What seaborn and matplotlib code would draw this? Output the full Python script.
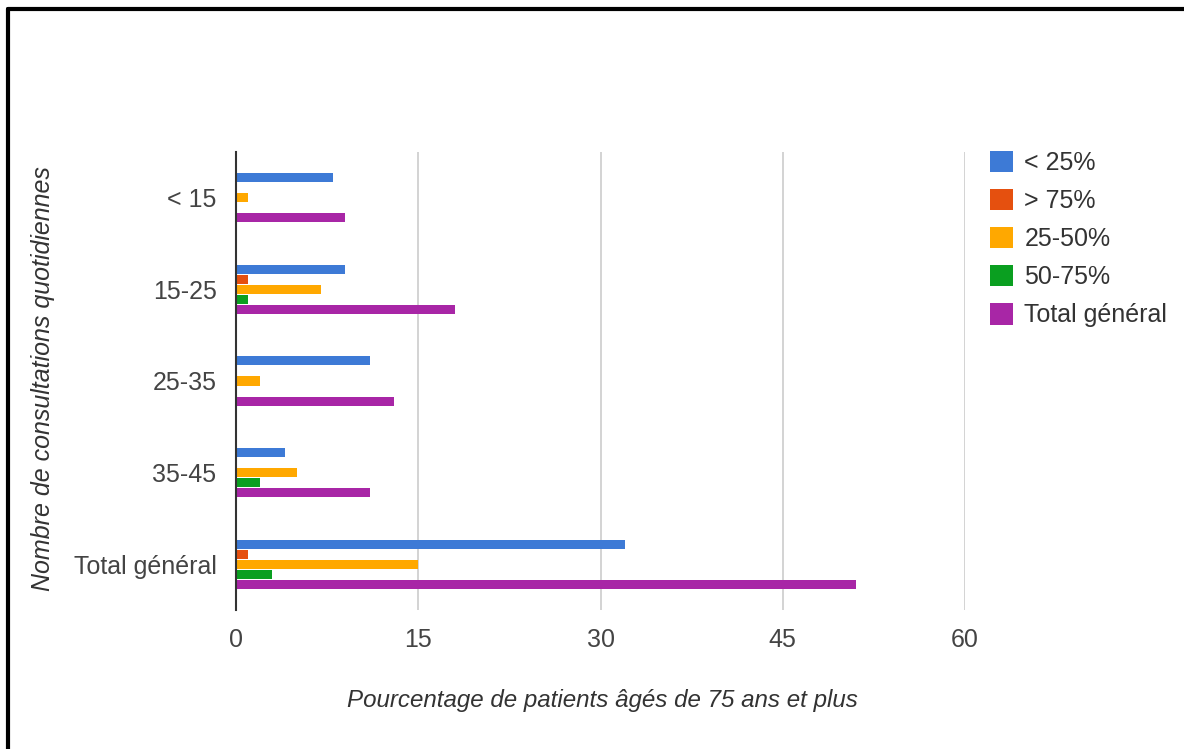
import matplotlib
matplotlib.use("Agg")
import matplotlib.pyplot as plt
import seaborn as sns
import pandas as pd
from matplotlib.patches import Patch
from matplotlib.lines import Line2D

categories = ["< 15", "15-25", "25-35", "35-45", "Total général"]
series = ["< 25%", "> 75%", "25-50%", "50-75%", "Total général"]
v_lt25 = [8, 9, 11, 4, 32]
v_gt75 = [0, 1, 0, 0, 1]
v_25_50 = [1, 7, 2, 5, 15]
v_50_75 = [0, 1, 0, 2, 3]
v_total = [9, 18, 13, 11, 51]
colors = ["#3d7ad6", "#e5500f", "#ffa800", "#0a9f20", "#a826a6"]
xticks = [0, 15, 30, 45, 60]

values = [v_lt25, v_gt75, v_25_50, v_50_75, v_total]
rows = []
for s, vals in zip(series, values):
    for c, v in zip(categories, vals):
        rows.append({"cat": c, "serie": s, "val": v})
df = pd.DataFrame(rows)

sns.set_style("white")
plt.rcParams["font.family"] = ["Liberation Sans", "DejaVu Sans"]

fig = plt.figure(figsize=(11.84, 7.49), dpi=100)
ax = fig.add_axes([236/1184, 1-610/749, (965-236)/1184, (610-152)/749])

pal = dict(zip(series, colors))
sns.barplot(data=df, y="cat", x="val", hue="serie", order=categories,
            hue_order=series, palette=pal, orient="h", width=0.546, gap=0.1,
            linewidth=0, saturation=1, ax=ax, legend=False, errorbar=None)

ax.set_xlim(0, 60)
ax.set_ylim(4.5, -0.5)
ax.set_xticks(xticks)
ax.set_xticklabels([str(t) for t in xticks])
for t in xticks[1:]:
    ax.axvline(t, color="#cccccc", lw=1.2, zorder=0)
for sp in ["top", "right", "bottom"]:
    ax.spines[sp].set_visible(False)
ax.spines["left"].set_color("#333333")
ax.spines["left"].set_linewidth(1.5)
ax.tick_params(axis="both", length=0, labelsize=18, colors="#444444")
ax.tick_params(axis="x", pad=13)
ax.tick_params(axis="y", pad=14)
ax.set_xlabel("Pourcentage de patients âgés de 75 ans et plus", fontsize=17.4,
              style="italic", color="#333333")
ax.set_ylabel("Nombre de consultations quotidiennes", fontsize=18,
              style="italic", color="#333333")
ax.xaxis.label.set_va("center")
ax.yaxis.label.set_va("center")
ax.xaxis.set_label_coords(0.502, (610-700)/458)
ax.yaxis.set_label_coords((43-236)/729, 0.505)

handles = [Patch(facecolor=c, edgecolor="none", label=s) for s, c in zip(series, colors)]
leg = fig.legend(handles=handles, loc="upper left", bbox_to_anchor=(977/1184, 1-138/749),
                 frameon=False, fontsize=18, handlelength=0.95, handleheight=0.95,
                 labelspacing=0.55, handletextpad=0.45, borderpad=0)
for t in leg.get_texts():
    t.set_color("#333333")

# frame lines (left and top of outer box)
fig.add_artist(Line2D([8/1184, 8/1184], [0, 1-9/749], transform=fig.transFigure, color="black", lw=3))
fig.add_artist(Line2D([8/1184, 1], [1-9/749, 1-9/749], transform=fig.transFigure, color="black", lw=3))

fig.savefig("out.png", dpi=100)
